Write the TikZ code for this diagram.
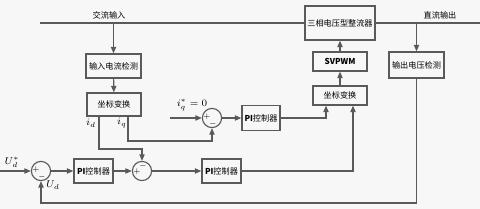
\documentclass[tikz,border=0pt]{standalone}
\usepackage{fontspec}
\newfontfamily\cjk{Noto Sans CJK SC}
\usetikzlibrary{arrows.meta,calc}
\definecolor{RectGray}{HTML}{5A5A5A}
\definecolor{RectBg}{HTML}{F7F7F7}
\begin{document}
\begin{tikzpicture}[
    x=0.025cm,y=-0.025cm,
    box/.style={draw=RectGray,line width=0.9pt,fill=RectBg,inner sep=1pt,
                font=\cjk\fontsize{5.8}{7}\selectfont,align=center},
    sumnode/.style={circle,draw=RectGray,line width=0.8pt,fill=RectBg,
                minimum size=0.48cm,inner sep=0pt},
    arrow/.style={-{Triangle[length=1.6mm,width=1.3mm]},line width=0.8pt,color=RectGray},
    wire/.style={line width=0.8pt,color=RectGray},
    sig/.style={font=\fontsize{7}{8}\selectfont,inner sep=1pt},
    pm/.style={font=\fontsize{4.5}{5}\selectfont,inner sep=0pt}
  ]
    \fill[RectBg] (0,0) rectangle (480,209);
    \useasboundingbox (0,0) rectangle (480,209);
    \coordinate (acin) at (40,23);
    \coordinate (dcout) at (480,23);
    \coordinate (iqin) at (170,118);
    \coordinate (udin) at (0,171);
    \draw[wire] (acin) -- (dcout);
    \node[box,minimum width=1.75cm,minimum height=0.85cm] (rect) at (340,23) {三相电压型整流器};
    \node[box,minimum width=1.35cm,minimum height=0.475cm] (svpwm) at (340,61.5) {\bfseries SVPWM};
    \node[box,minimum width=1.35cm,minimum height=0.475cm] (park2) at (340,95.5) {坐标变换};
    \node[box,minimum width=1.375cm,minimum height=0.65cm] (vdet) at (416.5,65) {输出电压检测};
    \node[box,minimum width=1.375cm,minimum height=0.6cm] (idet) at (113.5,66) {输入电流检测};
    \node[box,minimum width=1.35cm,minimum height=0.575cm] (park1) at (114,104.5) {坐标变换};
    \node[box,minimum width=0.95cm,minimum height=0.625cm] (piq) at (261,118) {\textbf{PI}控制器};
    \node[box,minimum width=0.975cm,minimum height=0.6cm] (piv) at (93.5,171) {\textbf{PI}控制器};
    \node[box,minimum width=0.975cm,minimum height=0.6cm] (pid) at (221.5,171) {\textbf{PI}控制器};
    \node[sumnode] (sumq) at (212,118) {};
    \node[sumnode] (sumd) at (142,171) {};
    \node[sumnode] (sumv) at (41,171) {};
    \node[pm] at ($(sumq.center)+(-5,-1)$) {$+$};
    \node[pm] at ($(sumq.center)+(1,5.5)$) {$-$};
    \node[pm] at ($(sumd.center)+(-5,1)$) {$+$};
    \node[pm] at ($(sumd.center)+(1,-5.5)$) {$-$};
    \node[pm] at ($(sumv.center)+(-5,-1)$) {$+$};
    \node[pm] at ($(sumv.center)+(1,5.5)$) {$-$};
    \node[font=\cjk\fontsize{5.8}{7}\selectfont] (aclabel) at (109,15) {交流输入};
    \node[font=\cjk\fontsize{5.8}{7}\selectfont] (dclabel) at (440,15) {直流输出};
    \node[sig] (idlabel) at (91,123) {$i_d$};
    \node[sig] (iqlabel) at (122,123) {$i_q$};
    \node[sig] (iqref) at (192,105) {$i_q^{*}=0$};
    \node[sig] (udref) at (12,162) {$U_d^{*}$};
    \node[sig] (udlabel) at (53,185) {$U_d$};
    \draw[arrow] (idet.north |- acin) -- (idet.north);
    \draw[arrow] (vdet.north |- dcout) -- (vdet.north);
    \draw[arrow] (idet) -- (park1);
    \draw[arrow] (park1.south -| 99,0) -- (99,149) -| (sumd.north);
    \draw[arrow] (park1.south -| 128,0) -- (128,141) -| (sumq.south);
    \draw[arrow] (iqin) -- (sumq.west);
    \draw[arrow] (sumq) -- (piq);
    \draw[arrow] (piq.east) -| ($(park2.south)+(-14,0)$);
    \draw[arrow] (pid.east) -| ($(park2.south)+(13,0)$);
    \draw[arrow] (park2) -- (svpwm);
    \draw[arrow] (svpwm) -- (rect);
    \draw[arrow] (vdet.south) -- (vdet.south |- 0,203) -| (sumv.south);
    \draw[arrow] (udin) -- (sumv.west);
    \draw[arrow] (sumv) -- (piv);
    \draw[arrow] (piv) -- (sumd);
    \draw[arrow] (sumd) -- (pid);
  \end{tikzpicture}
\end{document}
